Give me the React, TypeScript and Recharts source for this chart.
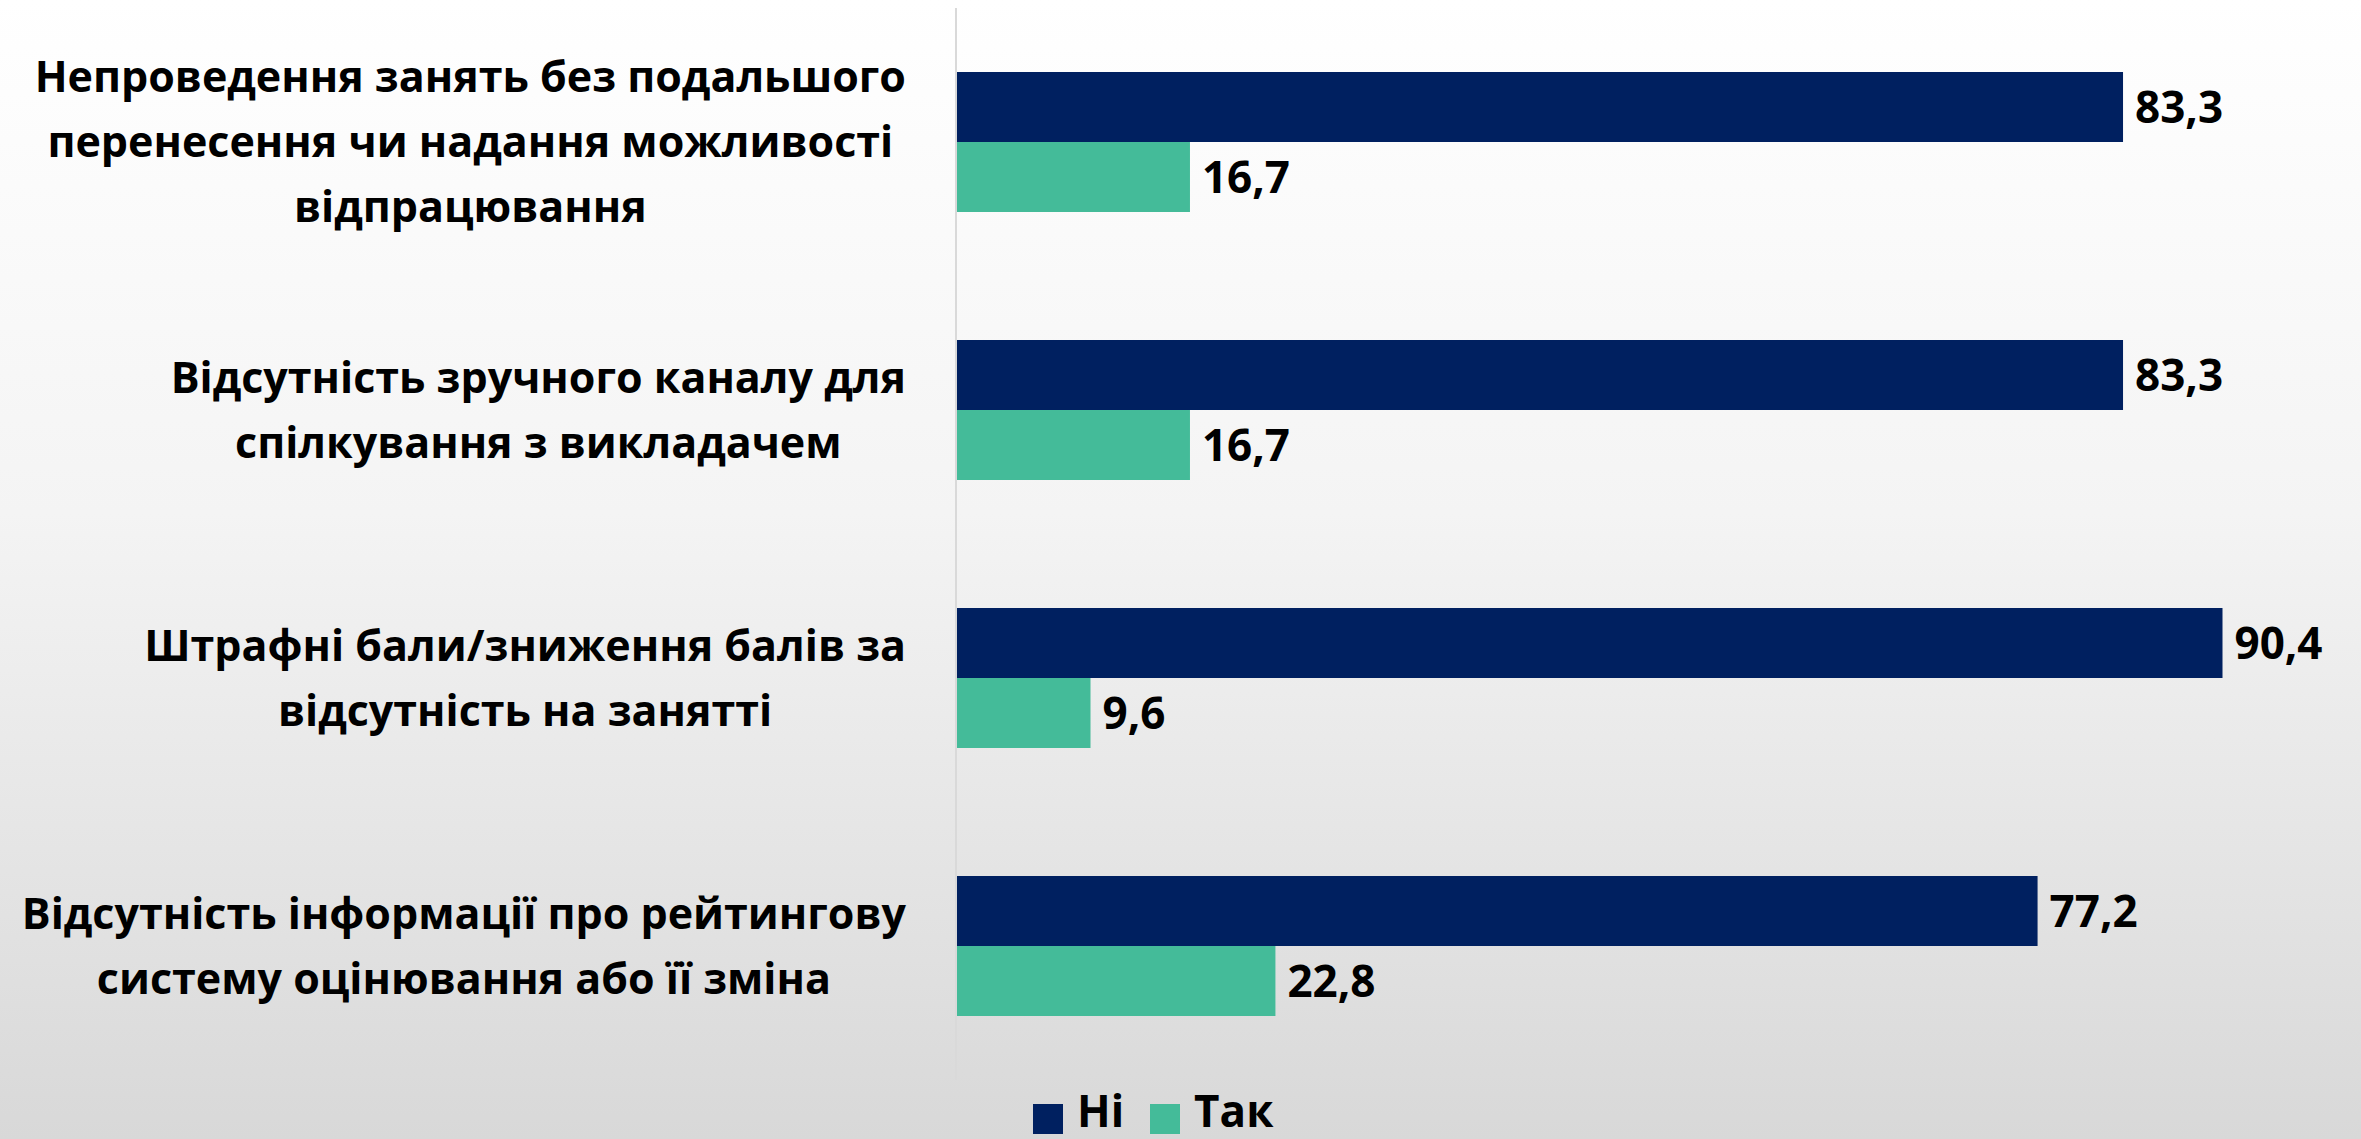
import { BarChart, Bar, XAxis, YAxis, LabelList } from 'recharts';

const categories: string[][] = [
  ['Непроведення занять без подальшого', 'перенесення чи надання можливості', 'відпрацювання'],
  ['Відсутність зручного каналу для', 'спілкування з викладачем'],
  ['Штрафні бали/зниження балів за', 'відсутність на занятті'],
  ['Відсутність інформації про рейтингову', 'систему оцінювання або її зміна'],
];
const niValues = [83.3, 83.3, 90.4, 77.2];
const takValues = [16.7, 16.7, 9.6, 22.8];
const seriesNames = ['Ні', 'Так'];

const FONT = '"Open Sans", sans-serif';
const FONT_SIZE = 43;
const NAVY = '#002060';
const GREEN = '#44bb99';

const data = categories.map((lines, i) => ({
  name: lines.join('\n'),
  ni: niValues[i],
  tak: takValues[i],
}));

let ctx: CanvasRenderingContext2D | null = null;
function textWidth(s: string): number {
  if (!ctx) ctx = document.createElement('canvas').getContext('2d');
  if (!ctx) return s.length * FONT_SIZE * 0.55;
  ctx.font = `bold ${FONT_SIZE}px "Open Sans"`;
  return ctx.measureText(s).width;
}

function CategoryTick(props: any) {
  const { x, y, payload } = props;
  const lines: string[] = String(payload.value).split('\n');
  const lineH = 65;
  const maxW = Math.max(...lines.map(textWidth));
  const cx = x - 42 - maxW / 2;
  const y0 = y - ((lines.length - 1) * lineH) / 2;
  return (
    <g>
      {lines.map((l, i) => (
        <text
          key={i}
          x={cx}
          y={y0 + i * lineH}
          dy="0.36em"
          textAnchor="middle"
          fontFamily={FONT}
          fontWeight={700}
          fontSize={FONT_SIZE}
          fill="#000"
        >
          {l}
        </text>
      ))}
    </g>
  );
}

const fmt = (v: any) => String(v).replace('.', ',');
const labelStyle = { fontFamily: FONT, fontWeight: 700, fontSize: 44, fill: '#000' };

export default function App() {
  const colors = [NAVY, GREEN];
  return (
    <div
      style={{
        position: 'absolute',
        left: 0,
        top: 0,
        width: 2361,
        height: 1139,
        overflow: 'hidden',
        background: 'linear-gradient(to bottom, #ffffff 0%, #f4f4f4 45%, #d8d8d8 100%)',
      }}
    >
      <BarChart
        width={2361}
        height={1139}
        data={data}
        layout="vertical"
        margin={{ top: 8, right: 4, left: 0, bottom: 59 }}
        barGap={0}
        barCategoryGap={64}
      >
        <XAxis type="number" domain={[0, 100]} hide />
        <YAxis
          type="category"
          dataKey="name"
          width={956}
          axisLine={{ stroke: '#d9d9d9', strokeWidth: 2 }}
          tickLine={false}
          tick={<CategoryTick />}
        />
        <Bar dataKey="ni" name={seriesNames[0]} fill={NAVY} barSize={70} isAnimationActive={false}>
          <LabelList dataKey="ni" position="right" offset={12} formatter={fmt} style={labelStyle} />
        </Bar>
        <Bar dataKey="tak" name={seriesNames[1]} fill={GREEN} barSize={70} isAnimationActive={false}>
          <LabelList dataKey="tak" position="right" offset={12} formatter={fmt} style={labelStyle} />
        </Bar>
      </BarChart>
      <div
        style={{
          position: 'absolute',
          left: 1033,
          top: 1088,
          display: 'flex',
          alignItems: 'flex-start',
          gap: 26,
        }}
      >
        {seriesNames.map((n, i) => (
          <div key={n} style={{ display: 'flex', alignItems: 'flex-start', gap: 14 }}>
            <div style={{ width: 30, height: 30, marginTop: 16, background: colors[i] }} />
            <span style={{ fontFamily: FONT, fontWeight: 700, fontSize: 44, lineHeight: '44px', color: '#000' }}>
              {n}
            </span>
          </div>
        ))}
      </div>
    </div>
  );
}
